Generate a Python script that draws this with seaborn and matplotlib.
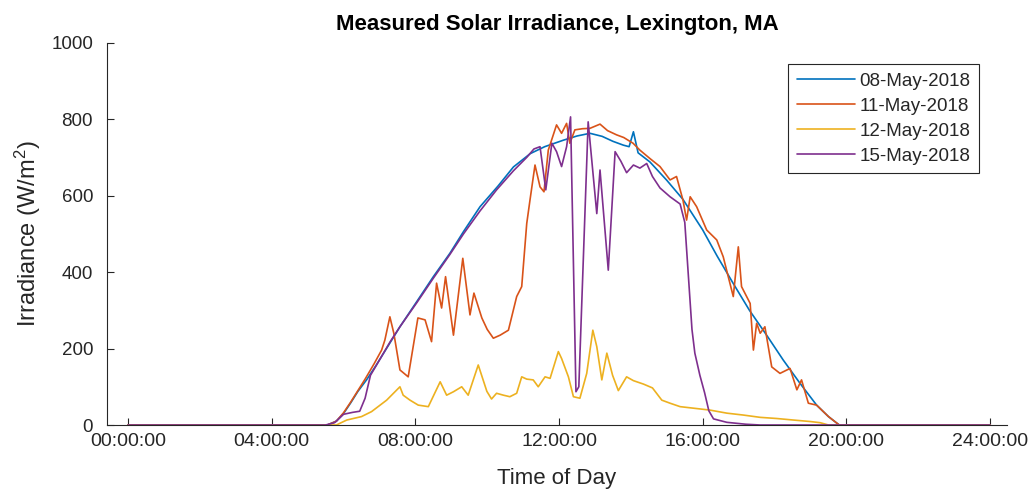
import matplotlib
matplotlib.use("Agg")
import matplotlib.pyplot as plt
import seaborn as sns
import pandas as pd

# ---------------- data (hours of day, W/m^2) ----------------
t_may08 = [0, 5.55, 5.8, 6.0, 6.2, 6.4, 6.64, 6.9, 7.11, 7.57, 8.04, 8.5, 8.96, 9.34, 9.8,
           10.3, 10.73, 11.2, 11.6, 12.12, 12.5, 12.86, 13.2, 13.5, 13.79, 13.95, 14.07, 14.2,
           14.53, 15.0, 15.45, 16.0, 16.4, 16.85, 17.3, 17.8, 18.24, 18.7, 19.17, 19.5, 19.8, 24]
v_may08 = [0, 0, 10, 30, 58, 88, 118, 155, 187, 257, 323, 388, 449, 506, 571,
           625, 675, 710, 728, 745, 756, 763, 755, 742, 732, 728, 767, 712,
           688, 640, 590, 510, 442, 370, 300, 232, 170, 110, 52, 22, 0, 0]

t_may11 = [0, 5.55, 5.8, 6.0, 6.2, 6.4, 6.6, 6.85, 7.06, 7.15, 7.29, 7.4, 7.57, 7.8, 8.07,
           8.27, 8.45, 8.59, 8.73, 8.84, 9.06, 9.32, 9.52, 9.63, 9.85, 10.0, 10.17, 10.36,
           10.59, 10.82, 10.96, 11.1, 11.19, 11.33, 11.47, 11.58, 11.7, 11.93, 12.07, 12.21,
           12.3, 12.44, 12.65, 12.86, 13.14, 13.35, 13.6, 13.8, 14.06, 14.25, 14.53, 14.81,
           15.09, 15.27, 15.45, 15.55, 15.65, 15.83, 16.11, 16.39, 16.57, 16.85, 16.99, 17.08,
           17.32, 17.41, 17.5, 17.6, 17.73, 17.92, 18.15, 18.43, 18.62, 18.75, 18.94, 19.17,
           19.5, 19.8, 24]
v_may11 = [0, 0, 10, 32, 60, 90, 120, 160, 196, 222, 283, 240, 144, 126, 280,
           275, 218, 371, 306, 388, 235, 436, 288, 345, 280, 250, 227, 235,
           248, 336, 362, 527, 588, 680, 623, 610, 719, 785, 763, 789,
           737, 772, 775, 776, 787, 770, 759, 752, 737, 719, 697, 676,
           641, 650, 588, 536, 597, 571, 510, 484, 440, 336, 466, 362,
           318, 196, 266, 240, 257, 152, 135, 148, 92, 118, 57, 52,
           22, 0, 0]

t_may12 = [0, 5.8, 6.09, 6.5, 6.78, 7.2, 7.57, 7.66, 7.85, 8.08, 8.36, 8.69, 8.87, 9.06,
           9.29, 9.47, 9.75, 9.99, 10.12, 10.26, 10.45, 10.63, 10.82, 10.96, 11.1, 11.28,
           11.42, 11.61, 11.75, 11.98, 12.07, 12.26, 12.4, 12.58, 12.77, 12.94, 13.05, 13.19,
           13.33, 13.49, 13.65, 13.88, 14.07, 14.35, 14.6, 14.86, 15.09, 15.37, 15.74, 16.2,
           16.67, 17.13, 17.6, 18.06, 18.52, 19.0, 19.27, 19.5, 24]
v_may12 = [0, 0, 13, 22, 35, 65, 100, 78, 65, 52, 48, 113, 78, 87,
           100, 78, 157, 88, 68, 83, 78, 74, 83, 126, 120, 118,
           100, 126, 122, 192, 174, 126, 74, 70, 135, 248, 205, 118,
           188, 130, 90, 126, 116, 107, 97, 65, 57, 48, 44, 39,
           31, 26, 20, 17, 13, 9, 6, 0, 0]

t_may15 = [0, 5.5, 5.75, 6.0, 6.25, 6.45, 6.6, 6.75, 7.0, 7.3, 7.57, 8.04, 8.5, 8.96, 9.34,
           9.8, 10.26, 10.73, 11.1, 11.3, 11.47, 11.63, 11.8, 11.93, 12.07, 12.21, 12.32,
           12.47, 12.55, 12.81, 13.05, 13.14, 13.37, 13.56, 13.72, 13.88, 14.07, 14.25, 14.44,
           14.6, 14.81, 15.09, 15.37, 15.5, 15.6, 15.7, 15.78, 15.92, 16.05, 16.17, 16.3,
           16.67, 17.2, 17.6, 24]
v_may15 = [0, 0, 6, 28, 33, 36, 70, 130, 170, 218, 257, 320, 384, 446, 500,
           560, 615, 665, 700, 722, 728, 615, 737, 715, 676, 728, 806,
           87, 100, 793, 553, 667, 405, 715, 690, 660, 680, 672, 684,
           650, 620, 597, 578, 530, 390, 250, 188, 130, 85, 37, 16,
           7, 2, 0, 0]

dates = ["08-May-2018", "11-May-2018", "12-May-2018", "15-May-2018"]
colors = ["#0072BD", "#D95319", "#EDB120", "#7E2F8E"]
xtick_vals = [0, 4, 8, 12, 16, 20, 24]
xtick_labels = ["00:00:00", "04:00:00", "08:00:00", "12:00:00", "16:00:00", "20:00:00", "24:00:00"]
ytick_vals = [0, 200, 400, 600, 800, 1000]

frames = []
for d, t, v in zip(dates, [t_may08, t_may11, t_may12, t_may15],
                   [v_may08, v_may11, v_may12, v_may15]):
    frames.append(pd.DataFrame({"Time": t, "Irradiance": v, "Date": d}))
df = pd.concat(frames, ignore_index=True)

# ---------------- style ----------------
sns.set_theme(style="white")
plt.rcParams["font.family"] = ["Liberation Sans", "DejaVu Sans"]
plt.rcParams["mathtext.fontset"] = "custom"
plt.rcParams["mathtext.rm"] = "Liberation Sans"
plt.rcParams["mathtext.it"] = "Liberation Sans"

fig = plt.figure(figsize=(10.36, 4.98), dpi=100, facecolor="white")
ax = fig.add_axes([107 / 1036, 73 / 498, 900 / 1036, 382.3 / 498])
ax.set_facecolor("white")

sns.lineplot(data=df, x="Time", y="Irradiance", hue="Date", hue_order=dates,
             palette=colors, estimator=None, sort=False, linewidth=1.2, ax=ax)

ax.set_xlim(-0.585, 24.47)
ax.set_ylim(0, 1000)
ax.set_xticks(xtick_vals)
ax.set_xticklabels(xtick_labels)
ax.set_yticks(ytick_vals)
ax.tick_params(axis="x", direction="in", length=5, width=0.8, colors="#262626",
               labelsize=14, bottom=True, top=False, pad=6)
ax.tick_params(axis="y", direction="in", length=5, width=0.8, colors="#262626",
               labelsize=13.5, left=True, right=False, pad=10)
for lab in ax.get_xticklabels() + ax.get_yticklabels():
    lab.set_color("#262626")

for s in ["top", "right"]:
    ax.spines[s].set_visible(False)
for s in ["left", "bottom"]:
    ax.spines[s].set_color("#262626")
    ax.spines[s].set_linewidth(0.8)

ax.set_xlabel("Time of Day", fontsize=16, color="#262626", labelpad=13)
ax.set_ylabel("Irradiance (W/m$^{2}$)", fontsize=17, color="#262626", labelpad=6)
ax.set_title("Measured Solar Irradiance, Lexington, MA", fontsize=16, fontweight="bold",
             color="black", pad=9)

leg = ax.legend(loc="upper right", bbox_to_anchor=(0.969, 0.944), borderaxespad=0,
                fontsize=13.5, frameon=True, fancybox=False, framealpha=1,
                edgecolor="#262626", handlelength=3.1, handletextpad=0.25,
                labelspacing=0.42, borderpad=0.45, title=None)
leg.get_frame().set_linewidth(0.8)
for txt in leg.get_texts():
    txt.set_color("#262626")

fig.savefig("out.png", dpi=100, facecolor="white")
